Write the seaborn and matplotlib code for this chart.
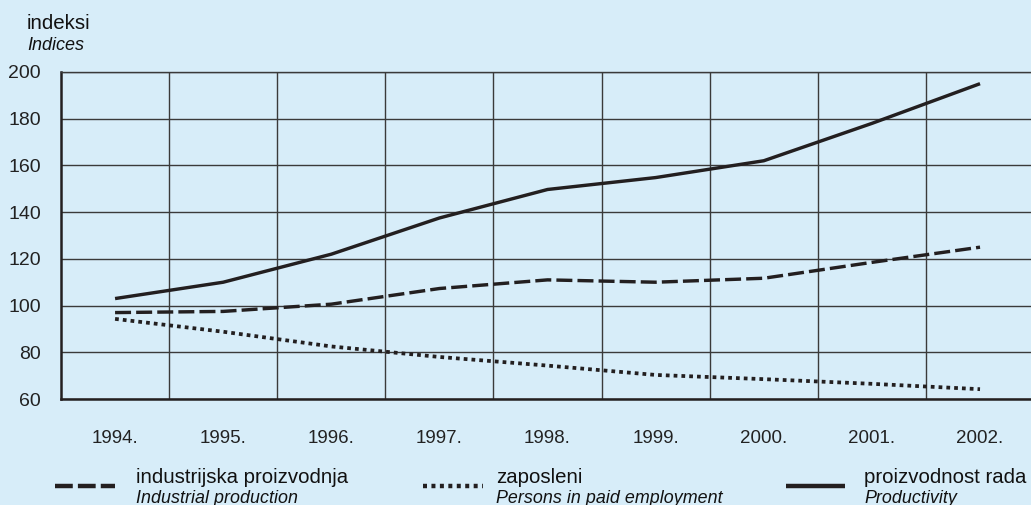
import numpy as np
import pandas as pd
import matplotlib
matplotlib.use("Agg")
import matplotlib.pyplot as plt
from matplotlib.lines import Line2D
import seaborn as sns

# Index values 1994-2002
years = ["1994.", "1995.", "1996.", "1997.", "1998.", "1999.", "2000.", "2001.", "2002."]
industrial_production = [97, 97.5, 100.6, 107.3, 111, 110, 111.7, 118.5, 125]
persons_employed = [94.3, 88.8, 82.5, 78, 74.3, 70.3, 68.5, 66.5, 64.2]
productivity = [103, 110, 122, 137.5, 149.7, 154.8, 162, 178, 195]
y_ticks = [60, 80, 100, 120, 140, 160, 180, 200]

BG = "#d7edf9"
INK = "#231f20"
TEXT = "#111111"
GRID = "#3a3a3a"
W, H = 1031, 505

sns.set_theme(style="white")
plt.rcParams["font.family"] = ["Liberation Sans", "DejaVu Sans"]

pos = np.arange(len(years))
df = pd.concat([
    pd.DataFrame({"x": pos, "value": industrial_production, "series": "ind"}),
    pd.DataFrame({"x": pos, "value": persons_employed, "series": "emp"}),
    pd.DataFrame({"x": pos, "value": productivity, "series": "prod"}),
])

dash_styles = {"ind": (4.7, 1.5), "emp": (1.0, 1.08), "prod": ""}
line_widths = {"ind": 2.45, "emp": 2.7, "prod": 2.45}

fig = plt.figure(figsize=(W / 100, H / 100), dpi=100, facecolor=BG)
ax = fig.add_axes([61 / W, 1 - 399 / H, 1.0 - 61 / W + 0.003, (399 - 72) / H])
ax.set_facecolor(BG)

series_order = ["ind", "emp", "prod"]
sns.lineplot(data=df, x="x", y="value", style="series", style_order=series_order,
             dashes=dash_styles, color=INK, linewidth=2.45, legend=False, ax=ax, sort=False)
for key, ln in zip(series_order, ax.get_lines()):
    ln.set_linewidth(line_widths[key])
    if dash_styles[key]:
        ln.set_dashes(dash_styles[key])
    ln.set_dash_capstyle("butt")
    ln.set_solid_capstyle("butt")
    ln.set_zorder(3)

ax.set_xlim(-0.5, 8.5)
ax.set_ylim(60, 200)
ax.set_xticks(pos)
ax.set_xticklabels(years)
ax.set_xticks(pos[:-1] + 0.5, minor=True)
ax.set_yticks(y_ticks)
ax.set_yticklabels([str(v) for v in y_ticks])
ax.tick_params(axis="both", which="both", length=0, colors="#222222")
ax.tick_params(axis="x", labelsize=13.5, pad=22)
ax.tick_params(axis="y", labelsize=14, pad=14.4)
ax.set_xlabel("")
ax.set_ylabel("")

ax.grid(False)
ax.yaxis.grid(True, which="major", color=GRID, linewidth=1.0)
ax.xaxis.grid(True, which="minor", color=GRID, linewidth=1.0)
ax.set_axisbelow(True)

for side in ["left", "bottom"]:
    ax.spines[side].set_color(INK)
    ax.spines[side].set_linewidth(1.8)
ax.spines["top"].set_color(GRID)
ax.spines["top"].set_linewidth(1.0)
ax.spines["right"].set_visible(False)

# Axis title
fig.text(27 / W, 1 - 29 / H, "indeksi", fontsize=14.8, color=TEXT, va="baseline", ha="left")
fig.text(27 / W, 1 - 50 / H, "Indices", fontsize=13, style="italic", color=TEXT,
         va="baseline", ha="left")

# Legend drawn along the bottom
legend_dashes = {"ind": (4.0, 1.15), "emp": (0.9, 1.0), "prod": ""}
legend_items = [
    ("ind", "industrijska proizvodnja", "Industrial production", 55, 115, 136),
    ("emp", "zaposleni", "Persons in paid employment", 423, 483, 496),
    ("prod", "proizvodnost rada", "Productivity", 786, 845, 864),
]
for key, top_label, bottom_label, x0, x1, tx in legend_items:
    ls = "-" if legend_dashes[key] == "" else (0, legend_dashes[key])
    handle = Line2D([x0 / W, x1 / W], [1 - 485.5 / H] * 2, transform=fig.transFigure,
                    color=INK, linewidth=3.2, linestyle=ls,
                    dash_capstyle="butt", solid_capstyle="butt")
    fig.add_artist(handle)
    fig.text(tx / W, 1 - 483 / H, top_label, fontsize=14.7, color=TEXT,
             va="baseline", ha="left")
    fig.text(tx / W, 1 - 503 / H, bottom_label, fontsize=12.9, style="italic",
             color=TEXT, va="baseline", ha="left")

fig.savefig("out.png", dpi=100, facecolor=BG)
